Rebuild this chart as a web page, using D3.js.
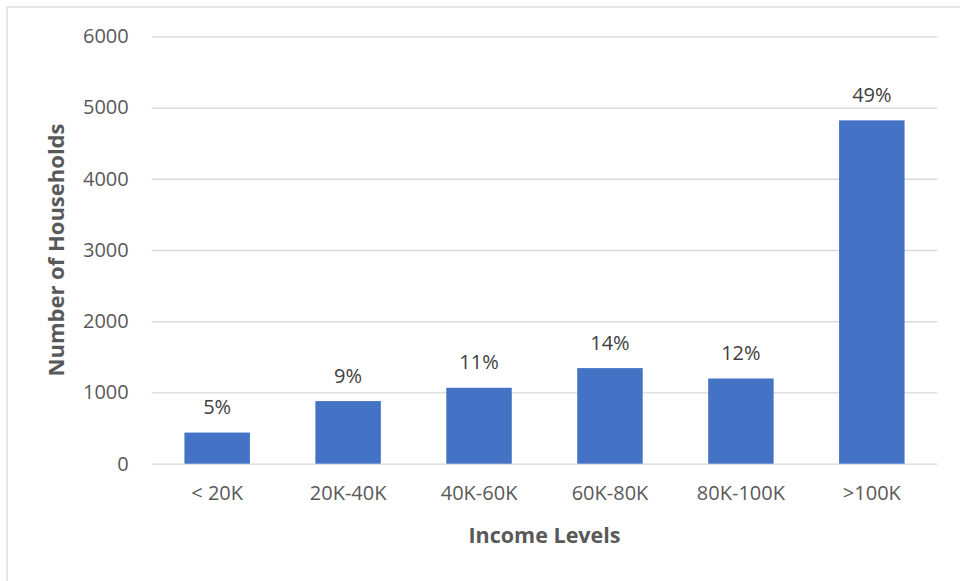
<!DOCTYPE html>
<html>
<head>
<meta charset="utf-8">
<script src="https://cdn.jsdelivr.net/npm/d3@7"></script>
<style>
	body { margin: 0; background: #fff; }
	svg { display: block; font-family: "Open Sans", sans-serif; }
</style>
</head>
<body>
<div id="chart"></div>
<script>
var categories = ["< 20K", "20K-40K", "40K-60K", "60K-80K", "80K-100K", ">100K"];
var households = [437, 879, 1066, 1342, 1196, 4820];
var shareLabels = ["5%", "9%", "11%", "14%", "12%", "49%"];
var yTicks = [0, 1000, 2000, 3000, 4000, 5000, 6000];

var width = 960, height = 581;
var margin = {top: 36.3, right: 22.7, bottom: 117.3, left: 151.7};

var svg = d3.select('#chart').append('svg')
	.attr('width', width).attr('height', height);

// chart frame
svg.append('rect')
	.attr('x', 7).attr('y', 7)
	.attr('width', width + 10).attr('height', height + 10)
	.attr('fill', 'none').attr('stroke', '#d9d9d9').attr('stroke-width', 1.3);

var x = d3.scaleBand()
	.domain(categories)
	.range([margin.left, width - margin.right])
	.paddingInner(0.5).paddingOuter(0.25);

var y = d3.scaleLinear()
	.domain([0, 6000])
	.range([height - margin.bottom, margin.top]);

// gridlines
svg.append('g')
	.attr('transform', 'translate(' + margin.left + ',0)')
	.call(d3.axisLeft(y).tickValues(yTicks)
		.tickSize(-(width - margin.right - margin.left)).tickFormat(''))
	.call(function(g) {
		g.select('.domain').remove();
		g.selectAll('line').attr('stroke', '#d9d9d9').attr('stroke-width', 1.3);
	});

// y tick labels
svg.append('g')
	.attr('transform', 'translate(' + (margin.left - 23) + ',0)')
	.call(d3.axisLeft(y).tickValues(yTicks).tickFormat(d3.format('d')).tickSize(0).tickPadding(0))
	.call(function(g) {
		g.select('.domain').remove();
		g.selectAll('text').attr('fill', '#595959')
			.style('font-size', '20px').style('font-family', '"Open Sans", sans-serif');
	});

// bars
svg.selectAll('rect.bar').data(households).enter().append('rect')
	.attr('class', 'bar')
	.attr('x', function(d, i) { return x(categories[i]); })
	.attr('width', x.bandwidth())
	.attr('y', function(d) { return y(d); })
	.attr('height', function(d) { return y(0) - y(d); })
	.attr('fill', '#4472c4');

// value labels
svg.selectAll('text.share').data(households).enter().append('text')
	.attr('class', 'share')
	.attr('x', function(d, i) { return x(categories[i]) + x.bandwidth() / 2; })
	.attr('y', function(d) { return y(d) - 18.5; })
	.attr('text-anchor', 'middle')
	.attr('fill', '#404040')
	.style('font-size', '20px')
	.text(function(d, i) { return shareLabels[i]; });

// x axis labels
svg.append('g')
	.attr('transform', 'translate(0,' + (height - margin.bottom + 14) + ')')
	.call(d3.axisBottom(x).tickSize(0).tickPadding(8))
	.call(function(g) {
		g.select('.domain').remove();
		g.selectAll('text').attr('fill', '#595959')
			.style('font-size', '20px').style('font-family', '"Open Sans", sans-serif');
	});

// axis titles
svg.append('text')
	.attr('x', (margin.left + width - margin.right) / 2)
	.attr('y', 542.7)
	.attr('text-anchor', 'middle')
	.attr('fill', '#595959')
	.style('font-size', '21.5px').style('font-weight', 'bold')
	.text('Income Levels');

svg.append('text')
	.attr('transform', 'translate(64,' + ((margin.top + height - margin.bottom) / 2) + ') rotate(-90)')
	.attr('text-anchor', 'middle')
	.attr('fill', '#595959')
	.style('font-size', '22px').style('font-weight', 'bold')
	.text('Number of Households');
</script>
</body>
</html>
